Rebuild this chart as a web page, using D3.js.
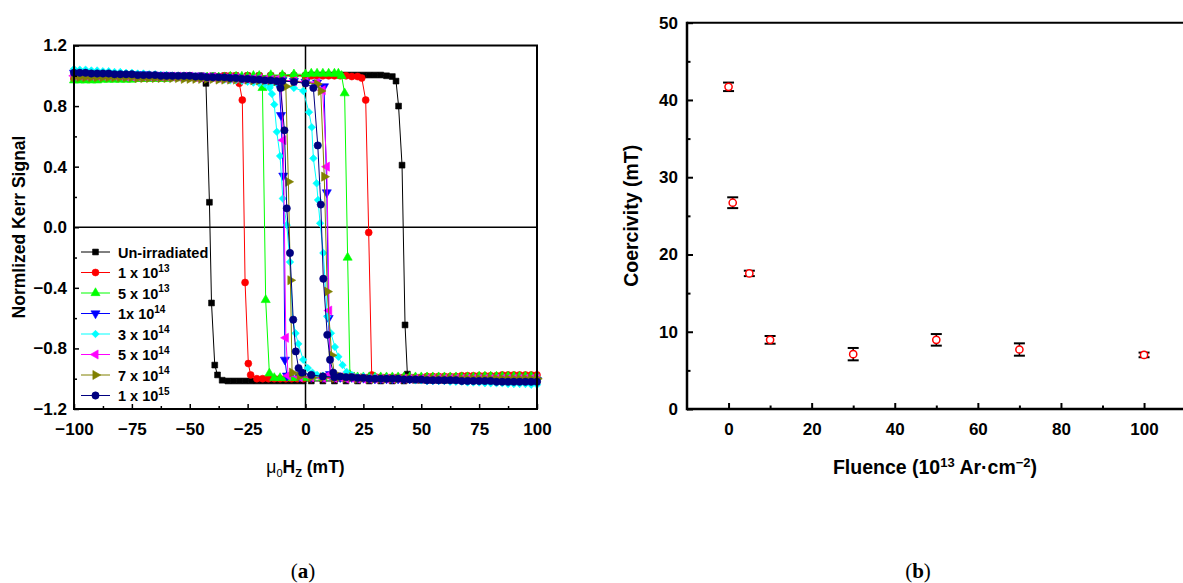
<!DOCTYPE html>
<html lang="en">
<head>
<meta charset="UTF-8">
<title>Kerr hysteresis and coercivity</title>
<script src="https://cdnjs.cloudflare.com/ajax/libs/d3/7.8.5/d3.min.js"></script>
<style>
    * { margin: 0; padding: 0; box-sizing: border-box; }
    body { background: #fff; width: 1183px; height: 583px; overflow: hidden; }
    svg { display: block; font-family: "Liberation Sans", Arial, sans-serif; }
</style>
</head>
<body>
<svg id="fig" width="1183" height="583"></svg>
<script>
// ---- panel (a): Kerr loops, [field mT, normalized signal] ----
// "Up" = sweep from -100 to +100, "Down" = sweep from +100 to -100 (both listed by field)
const bkUp = [[-100,0.99],[-95,0.99],[-90,0.99],[-85,0.99],[-80,0.99],[-75,0.99],[-70,0.99],[-65,0.99],[-60,0.99],[-55,0.995],
    [-50,1.0],[-45,1.0],[-40,1.0],[-35,1.0],[-30,1.0],[-25,1.0],[-20,1.0],[-15,1.0],[-10,1.0],[-5,1.0],[0,1.0],
    [2.5,1.005],[5,1.005],[7.5,1.005],[10,1.005],[12.5,1.005],[15,1.005],[17.5,1.005],[20,1.005],[22.5,1.005],[25,1.005],
    [27.5,1.005],[30,1.005],[32.5,1.005],[35,1.0],[37.5,0.995],[39.1,0.965],[40.2,0.80],[41.7,0.41],[43.0,-0.645],[44.0,-0.97],
    [45.5,-1.0],[50,-1.01],[55,-1.01],[60,-1.01],[65,-1.01],[70,-1.01],[75,-1.01],[80,-1.01],[85,-1.01],[90,-1.01],[95,-1.01],[100,-1.01]];
const bkDown = [[-97.5,0.99],[-92.5,0.99],[-87.5,0.99],[-82.5,0.99],[-77.5,0.99],[-72.5,0.99],[-67.5,0.99],[-62.5,0.99],[-57.5,0.99],
    [-52.5,0.995],[-47.5,0.995],[-45,0.985],[-43,0.95],[-41.5,0.165],[-40.6,-0.50],[-39.2,-0.91],[-38,-0.975],[-36,-1.01],
    [-33.5,-1.015],[-31,-1.015],[-28.5,-1.015],[-26,-1.015],[-23.5,-1.015],[-21,-1.015],[-18.5,-1.015],[-16,-1.015],[-13.5,-1.015],
    [-11,-1.015],[-8.5,-1.015],[-6,-1.015],[-3.5,-1.015],[-1,-1.015],[2.5,-1.015],[7.5,-1.015],[12.5,-1.015],[17.5,-1.015],
    [22.5,-1.015],[27.5,-1.015],[32.5,-1.015],[37.5,-1.015],[42.5,-1.015],[47.5,-1.01],[52.5,-1.01],[57.5,-1.01],[62.5,-1.01],
    [67.5,-1.01],[72.5,-1.01],[77.5,-1.01],[82.5,-1.01],[87.5,-1.01],[92.5,-1.01],[97.5,-1.01]];

const rdUp = [[-100,0.98],[-95,0.98],[-90,0.98],[-85,0.985],[-80,0.985],[-75,0.985],[-70,0.985],[-65,0.99],[-60,0.99],[-55,0.99],
    [-50,0.99],[-45,0.995],[-40,0.995],[-35,1.0],[-30,1.0],[-25,1.0],[-20,1.0],[-15,1.0],[-10,1.0],[-5,1.0],[0,1.0],[2.5,1.0],
    [5,1.0],[7.5,1.0],[10,1.0],[12.5,1.0],[15,1.0],[17.5,1.0],[20,0.995],[22.5,0.995],[24.3,0.985],[26.0,0.84],[27.3,-0.035],
    [28.6,-0.975],[30.5,-0.99],[35,-0.99],[40,-0.99],[45,-0.99],[50,-0.99],[55,-0.985],[60,-0.985],[65,-0.985],[70,-0.98],
    [75,-0.98],[80,-0.98],[85,-0.975],[90,-0.975],[95,-0.975],[100,-0.975]];
const rdDown = [[-97.5,0.98],[-92.5,0.98],[-87.5,0.985],[-82.5,0.985],[-77.5,0.985],[-72.5,0.985],[-67.5,0.99],[-62.5,0.99],
    [-57.5,0.99],[-52.5,0.99],[-47.5,0.99],[-42.5,0.995],[-37.5,0.995],[-32.5,1.0],[-30,0.99],[-28.6,0.95],[-27.3,0.84],
    [-26.1,-0.365],[-24.7,-0.90],[-23.7,-0.975],[-21,-1.0],[-18.5,-1.0],[-16,-1.0],[-13.5,-1.0],[-11,-1.0],[-8.5,-1.0],[-6,-1.0],
    [-3.5,-1.0],[-1,-1.0],[2.5,-1.0],[7.5,-1.0],[12.5,-1.0],[17.5,-0.995],[22.5,-0.995],[27.5,-0.99],[32.5,-0.99],[37.5,-0.99],
    [42.5,-0.99],[47.5,-0.99],[52.5,-0.985],[57.5,-0.985],[62.5,-0.985],[67.5,-0.98],[72.5,-0.98],[77.5,-0.98],[82.5,-0.98],
    [87.5,-0.975],[92.5,-0.975],[97.5,-0.975]];

const gnUp = [[-100,0.97],[-95,0.97],[-90,0.97],[-85,0.975],[-80,0.975],[-75,0.975],[-70,0.98],[-65,0.98],[-60,0.98],[-55,0.985],
    [-50,0.985],[-45,0.985],[-40,0.99],[-35,0.99],[-30,0.995],[-25,0.995],[-20,1.0],[-15,1.005],[-10,1.005],[-5,1.01],[0,1.01],
    [2.5,1.015],[5,1.015],[7.5,1.015],[10,1.015],[12.5,1.015],[14.2,1.015],[15.6,1.0],[16.9,0.885],[18.2,-0.20],[19.2,-0.975],
    [21,-0.99],[25,-0.99],[30,-0.99],[35,-0.99],[40,-0.99],[45,-0.99],[50,-0.99],[55,-0.99],[60,-0.99],[65,-0.99],[70,-0.99],
    [75,-0.985],[80,-0.985],[85,-0.985],[90,-0.985],[95,-0.985],[100,-0.985]];
const gnDown = [[-97.5,0.97],[-92.5,0.97],[-87.5,0.975],[-82.5,0.975],[-77.5,0.975],[-72.5,0.98],[-67.5,0.98],[-62.5,0.98],
    [-57.5,0.985],[-52.5,0.985],[-47.5,0.985],[-42.5,0.99],[-37.5,0.99],[-32.5,0.995],[-27.5,0.995],[-22.5,1.0],[-20,0.99],
    [-18.6,0.92],[-17.2,-0.48],[-15.6,-0.965],[-13.5,-0.995],[-11,-0.995],[-8.5,-0.995],[-6,-0.995],[-3.5,-0.995],[-1,-0.995],
    [2.5,-0.995],[7.5,-0.995],[12.5,-0.99],[17.5,-0.99],[22.5,-0.99],[27.5,-0.99],[32.5,-0.99],[37.5,-0.99],[42.5,-0.99],
    [47.5,-0.99],[52.5,-0.99],[57.5,-0.99],[62.5,-0.99],[67.5,-0.99],[72.5,-0.99],[77.5,-0.985],[82.5,-0.985],[87.5,-0.985],
    [92.5,-0.985],[97.5,-0.985]];

const blUp = [[-100,1.02],[-95,1.02],[-90,1.015],[-85,1.015],[-80,1.01],[-75,1.01],[-70,1.01],[-65,1.005],[-60,1.005],[-55,1.0],
    [-50,1.0],[-45,1.0],[-40,0.995],[-35,0.99],[-30,0.99],[-25,0.985],[-20,0.98],[-15,0.975],[-10,0.97],[-5,0.965],[0,0.96],
    [5,0.955],[8.0,0.93],[9.2,0.23],[10.0,-0.6],[10.6,-0.97],[15,-0.99],[20,-0.99],[25,-0.995],[30,-1.0],[35,-1.0],[40,-1.0],
    [45,-1.0],[50,-1.0],[55,-1.005],[60,-1.005],[65,-1.005],[70,-1.005],[75,-1.01],[80,-1.01],[85,-1.01],[90,-1.01],[95,-1.01],
    [100,-1.01]];
const blDown = [[-97.5,1.02],[-92.5,1.015],[-87.5,1.015],[-82.5,1.01],[-77.5,1.01],[-72.5,1.01],[-67.5,1.005],[-62.5,1.005],
    [-57.5,1.0],[-52.5,1.0],[-47.5,1.0],[-42.5,0.995],[-37.5,0.99],[-32.5,0.99],[-27.5,0.985],[-22.5,0.98],[-17.5,0.975],
    [-12.5,0.97],[-11.3,0.93],[-10.6,0.74],[-9.6,0.34],[-8.9,-0.875],[-8.0,-0.98],[-2.5,-0.985],[2.5,-0.99],[7.5,-0.99],
    [12.5,-0.99],[17.5,-0.99],[22.5,-0.995],[27.5,-0.995],[32.5,-1.0],[37.5,-1.0],[42.5,-1.0],[47.5,-1.0],[52.5,-1.005],
    [57.5,-1.005],[62.5,-1.005],[67.5,-1.005],[72.5,-1.005],[77.5,-1.01],[82.5,-1.01],[87.5,-1.01],[92.5,-1.01],[97.5,-1.01]];

const cyUp = [[-100,1.045],[-95,1.04],[-90,1.035],[-85,1.03],[-80,1.025],[-75,1.02],[-70,1.015],[-65,1.01],[-60,1.005],[-55,1.0],
    [-50,0.995],[-45,0.99],[-40,0.985],[-35,0.975],[-30,0.97],[-25,0.96],[-20,0.95],[-15,0.94],[-10,0.93],[-5,0.92],[-1.0,0.90],
    [1.5,0.76],[2.7,0.66],[3.4,0.455],[4.8,0.29],[5.4,0.18],[6.3,0.026],[7.7,-0.17],[9.4,-0.59],[11.0,-0.70],[12.7,-0.79],
    [14.2,-0.855],[16.0,-0.91],[17.8,-0.955],[20,-0.975],[25,-0.985],[30,-0.99],[35,-0.995],[40,-1.0],[45,-1.005],[50,-1.01],
    [55,-1.015],[60,-1.015],[65,-1.02],[70,-1.025],[75,-1.025],[80,-1.03],[85,-1.03],[90,-1.035],[95,-1.035],[100,-1.04]];
const cyDown = [[-97.5,1.04],[-92.5,1.035],[-87.5,1.03],[-82.5,1.025],[-77.5,1.02],[-72.5,1.015],[-67.5,1.01],[-62.5,1.005],
    [-57.5,1.0],[-52.5,0.995],[-47.5,0.99],[-42.5,0.985],[-37.5,0.98],[-32.5,0.97],[-27.5,0.965],[-22.5,0.955],[-17.5,0.945],
    [-15.5,0.92],[-14.5,0.88],[-13.5,0.81],[-12.4,0.63],[-11.0,0.47],[-9.8,0.19],[-8.1,0.015],[-6.7,-0.23],[-5.5,-0.61],
    [-4.3,-0.70],[-3.1,-0.77],[-1.0,-0.875],[1.0,-0.93],[3.0,-0.96],[5.0,-0.975],[7.5,-0.98],[12.5,-0.985],[17.5,-0.99],
    [22.5,-0.99],[27.5,-0.995],[32.5,-1.0],[37.5,-1.0],[42.5,-1.005],[47.5,-1.01],[52.5,-1.015],[57.5,-1.015],[62.5,-1.02],
    [67.5,-1.02],[72.5,-1.025],[77.5,-1.03],[82.5,-1.03],[87.5,-1.035],[92.5,-1.035],[97.5,-1.04]];

const mgUp = [[-100,1.0],[-95,1.0],[-90,1.0],[-85,1.0],[-80,1.0],[-75,0.995],[-70,0.995],[-65,0.995],[-60,0.995],[-55,0.995],
    [-50,0.995],[-45,0.99],[-40,0.99],[-35,0.985],[-30,0.985],[-25,0.98],[-20,0.98],[-15,0.975],[-10,0.97],[-5,0.965],[0,0.96],
    [5,0.955],[7.4,0.905],[9.2,0.40],[10.2,-0.55],[10.8,-0.97],[15,-0.99],[20,-0.995],[25,-1.0],[30,-1.0],[35,-1.0],[40,-1.0],
    [45,-1.0],[50,-1.0],[55,-1.0],[60,-1.0],[65,-1.0],[70,-1.0],[75,-1.0],[80,-1.0],[85,-1.0],[90,-1.0],[95,-1.0],[100,-1.0]];
const mgDown = [[-97.5,1.0],[-92.5,1.0],[-87.5,1.0],[-82.5,1.0],[-77.5,0.995],[-72.5,0.995],[-67.5,0.995],[-62.5,0.995],
    [-57.5,0.995],[-52.5,0.995],[-47.5,0.99],[-42.5,0.99],[-37.5,0.985],[-32.5,0.985],[-27.5,0.98],[-22.5,0.98],[-17.5,0.975],
    [-12.5,0.975],[-10.5,0.95],[-9.6,0.575],[-8.5,-0.73],[-7.5,-0.98],[-2.5,-0.99],[2.5,-0.99],[7.5,-0.995],[12.5,-0.995],
    [17.5,-1.0],[22.5,-1.0],[27.5,-1.0],[32.5,-1.0],[37.5,-1.0],[42.5,-1.0],[47.5,-1.0],[52.5,-1.0],[57.5,-1.0],[62.5,-1.0],
    [67.5,-1.0],[72.5,-1.0],[77.5,-1.0],[82.5,-1.0],[87.5,-1.0],[92.5,-1.0],[97.5,-1.0]];

const olUp = [[-100,0.99],[-95,0.99],[-90,0.99],[-85,0.99],[-80,0.99],[-75,0.99],[-70,0.985],[-65,0.985],[-60,0.985],[-55,0.985],
    [-50,0.98],[-45,0.98],[-40,0.98],[-35,0.975],[-30,0.975],[-25,0.975],[-20,0.97],[-15,0.97],[-10,0.965],[-5,0.96],[0,0.955],
    [5,0.945],[6.6,0.90],[8.1,0.334],[9.4,-0.425],[11.3,-0.845],[12.5,-0.97],[15,-0.985],[20,-0.99],[25,-0.995],[30,-1.0],
    [35,-1.0],[40,-1.0],[45,-1.0],[50,-1.0],[55,-1.0],[60,-1.0],[65,-1.0],[70,-1.0],[75,-1.0],[80,-1.0],[85,-1.0],[90,-1.0],
    [95,-1.0],[100,-1.0]];
const olDown = [[-97.5,0.99],[-92.5,0.99],[-87.5,0.99],[-82.5,0.99],[-77.5,0.99],[-72.5,0.985],[-67.5,0.985],[-62.5,0.985],
    [-57.5,0.985],[-52.5,0.98],[-47.5,0.98],[-42.5,0.98],[-37.5,0.975],[-32.5,0.975],[-27.5,0.975],[-22.5,0.97],[-17.5,0.97],
    [-12.5,0.965],[-8.5,0.93],[-7.4,0.30],[-6.5,-0.35],[-5.8,-0.96],[-2.5,-0.985],[2.5,-0.99],[7.5,-0.99],[12.5,-0.995],
    [17.5,-0.995],[22.5,-1.0],[27.5,-1.0],[32.5,-1.0],[37.5,-1.0],[42.5,-1.0],[47.5,-1.0],[52.5,-1.0],[57.5,-1.0],[62.5,-1.0],
    [67.5,-1.0],[72.5,-1.0],[77.5,-1.0],[82.5,-1.0],[87.5,-1.0],[92.5,-1.0],[97.5,-1.0]];

const nvUp = [[-100,1.02],[-95,1.02],[-90,1.015],[-85,1.015],[-80,1.01],[-75,1.01],[-70,1.005],[-65,1.005],[-60,1.0],[-55,1.0],
    [-50,1.0],[-45,0.995],[-40,0.99],[-35,0.99],[-30,0.985],[-25,0.98],[-20,0.975],[-15,0.97],[-10,0.965],[-5,0.96],[0,0.95],
    [3.4,0.92],[5.3,0.54],[6.6,0.15],[7.7,-0.34],[9.4,-0.71],[10.6,-0.875],[12.0,-0.96],[15,-0.985],[20,-0.99],[25,-0.995],
    [30,-1.0],[35,-1.0],[40,-1.0],[45,-1.005],[50,-1.005],[55,-1.01],[60,-1.01],[65,-1.01],[70,-1.015],[75,-1.015],[80,-1.015],
    [85,-1.02],[90,-1.02],[95,-1.02],[100,-1.02]];
const nvDown = [[-97.5,1.02],[-92.5,1.015],[-87.5,1.015],[-82.5,1.01],[-77.5,1.01],[-72.5,1.005],[-67.5,1.005],[-62.5,1.0],
    [-57.5,1.0],[-52.5,1.0],[-47.5,0.995],[-42.5,0.99],[-37.5,0.99],[-32.5,0.985],[-27.5,0.98],[-22.5,0.975],[-17.5,0.97],
    [-12.5,0.965],[-10.8,0.92],[-9.1,0.64],[-8.1,0.125],[-6.7,-0.17],[-5.3,-0.61],[-4.2,-0.82],[-3.0,-0.93],[-1.5,-0.96],
    [2.5,-0.975],[7.5,-0.985],[12.5,-0.99],[17.5,-0.99],[22.5,-0.995],[27.5,-1.0],[32.5,-1.0],[37.5,-1.0],[42.5,-1.005],
    [47.5,-1.005],[52.5,-1.01],[57.5,-1.01],[62.5,-1.01],[67.5,-1.015],[72.5,-1.015],[77.5,-1.015],[82.5,-1.02],[87.5,-1.02],
    [92.5,-1.02],[97.5,-1.02]];

const legendBase = ["Un-irradiated", "1 x 10", "5 x 10", "1x 10", "3 x 10", "5 x 10", "7 x 10", "1 x 10"];
const legendExp = ["", "13", "13", "14", "14", "14", "14", "15"];

const fieldTicks = [-100, -75, -50, -25, 0, 25, 50, 75, 100];
const kerrTicks = [-1.2, -0.8, -0.4, 0.0, 0.4, 0.8, 1.2];

// ---- panel (b): coercivity vs fluence ----
const fluence = [0, 1, 5, 10, 30, 50, 70, 100];
const coercivity = [41.7, 26.7, 17.55, 8.95, 7.1, 8.95, 7.7, 7.0];
const coercErr = [0.55, 0.7, 0.35, 0.5, 0.8, 0.75, 0.8, 0.3];
const fluenceTicks = [0, 20, 40, 60, 80, 100];
const coercTicks = [0, 10, 20, 30, 40, 50];

const FONT = '"Liberation Sans", Arial, sans-serif';
const svg = d3.select("#fig");
svg.append("rect").attr("width", 1183).attr("height", 583).attr("fill", "#fff");

// ================= panel (a) =================
const xL = d3.scaleLinear().domain([-100, 100]).range([74, 537]);
const yL = d3.scaleLinear().domain([-1.2, 1.2]).range([409, 45.5]);
const pa = svg.append("g");

const loops = [
    { up: bkUp, down: bkDown, color: "#000000", sym: d3.symbolSquare, rot: 0, size: 34 },
    { up: rdUp, down: rdDown, color: "#ff0000", sym: d3.symbolCircle, rot: 0, size: 38 },
    { up: gnUp, down: gnDown, color: "#00ff00", sym: d3.symbolTriangle, rot: 0, size: 36 },
    { up: blUp, down: blDown, color: "#0000ff", sym: d3.symbolTriangle, rot: 180, size: 36 },
    { up: cyUp, down: cyDown, color: "#00ffff", sym: d3.symbolSquare, rot: 45, size: 28 },
    { up: mgUp, down: mgDown, color: "#ff00ff", sym: d3.symbolTriangle, rot: -90, size: 36 },
    { up: olUp, down: olDown, color: "#808000", sym: d3.symbolTriangle, rot: 90, size: 36 },
    { up: nvUp, down: nvDown, color: "#000080", sym: d3.symbolCircle, rot: 0, size: 42 }
];

// zero lines
pa.append("line").attr("x1", xL(-100)).attr("x2", xL(100)).attr("y1", yL(0)).attr("y2", yL(0))
    .attr("stroke", "#000").attr("stroke-width", 1.5);
pa.append("line").attr("x1", xL(0)).attr("x2", xL(0)).attr("y1", yL(1.2)).attr("y2", yL(-1.2))
    .attr("stroke", "#000").attr("stroke-width", 1.5);

const lineGen = d3.line().x(d => xL(d[0])).y(d => yL(d[1]));

loops.forEach(s => {
    const g = pa.append("g");
    [s.up, s.down].forEach(branch => {
        g.append("path").datum(branch).attr("d", lineGen)
            .attr("fill", "none").attr("stroke", s.color).attr("stroke-width", 1);
    });
    const shape = d3.symbol().type(s.sym).size(s.size)();
    [s.up, s.down].forEach(branch => {
        g.selectAll(null).data(branch).enter().append("path")
            .attr("d", shape)
            .attr("transform", d => `translate(${xL(d[0])},${yL(d[1])}) rotate(${s.rot})`)
            .attr("fill", s.color).attr("stroke", s.color).attr("stroke-width", 0.6);
    });
});

// axes (inward ticks)
const axBottomL = pa.append("g").attr("transform", `translate(0,${yL(-1.2)})`)
    .call(d3.axisBottom(xL).tickValues(fieldTicks).tickSizeInner(-5).tickSizeOuter(0).tickPadding(14));
const axBottomLMinor = pa.append("g").attr("transform", `translate(0,${yL(-1.2)})`)
    .call(d3.axisBottom(xL).tickValues([-87.5, -62.5, -37.5, -12.5, 12.5, 37.5, 62.5, 87.5])
        .tickSizeInner(-3).tickSizeOuter(0).tickFormat(""));
const axLeftL = pa.append("g").attr("transform", `translate(${xL(-100)},0)`)
    .call(d3.axisLeft(yL).tickValues(kerrTicks).tickSizeInner(-5).tickSizeOuter(0).tickPadding(7)
        .tickFormat(d3.format(".1f")));
const axLeftLMinor = pa.append("g").attr("transform", `translate(${xL(-100)},0)`)
    .call(d3.axisLeft(yL).tickValues([-1.0, -0.6, -0.2, 0.2, 0.6, 1.0]).tickSizeInner(-3).tickSizeOuter(0).tickFormat(""));

function styleAxis(g) {
    g.attr("font-family", FONT).attr("font-size", 17).attr("font-weight", "bold");
    g.select(".domain").remove();
    g.selectAll(".tick line").attr("stroke", "#000").attr("stroke-width", 1.5);
    g.selectAll(".tick text").attr("fill", "#000");
}
[axBottomL, axBottomLMinor, axLeftL, axLeftLMinor].forEach(styleAxis);

// frame
pa.append("rect").attr("x", xL(-100)).attr("y", yL(1.2))
    .attr("width", xL(100) - xL(-100)).attr("height", yL(-1.2) - yL(1.2))
    .attr("fill", "none").attr("stroke", "#000").attr("stroke-width", 2);

// legend
const legend = pa.append("g").attr("font-family", FONT).attr("font-weight", "bold").attr("font-size", 14.5);
legendBase.forEach((label, i) => {
    const s = loops[i];
    const cy = 252 + i * 20.5;
    legend.append("line").attr("x1", 81).attr("x2", 110).attr("y1", cy).attr("y2", cy)
        .attr("stroke", s.color).attr("stroke-width", 1);
    legend.append("path").attr("d", d3.symbol().type(s.sym).size(s.size)())
        .attr("transform", `translate(95.5,${cy}) rotate(${s.rot})`)
        .attr("fill", s.color).attr("stroke", s.color).attr("stroke-width", 0.6);
    const t = legend.append("text").attr("x", 118).attr("y", cy + 5.5).attr("fill", "#000").text(label);
    if (legendExp[i]) {
        t.append("tspan").attr("dy", -6.5).attr("font-size", 10).text(legendExp[i]);
    }
});

// axis titles
pa.append("text").attr("transform", "translate(25,227) rotate(-90)")
    .attr("text-anchor", "middle").attr("font-family", FONT).attr("font-weight", "bold").attr("font-size", 17.5)
    .text("Normlized Kerr Signal");

const xt = pa.append("text").attr("x", xL(0)).attr("y", 473).attr("text-anchor", "middle")
    .attr("font-family", FONT).attr("font-weight", "bold").attr("font-size", 17.5);
xt.append("tspan").attr("font-weight", "normal").text("\u03BC");
xt.append("tspan").attr("font-size", 11).attr("dy", 4).attr("font-weight", "normal").text("0");
xt.append("tspan").attr("dy", -4).text("H");
xt.append("tspan").attr("font-size", 11).attr("dy", 4).text("Z");
xt.append("tspan").attr("dy", -4).text(" (mT)");

// ================= panel (b) =================
const xR = d3.scaleLinear().domain([-10, 110]).range([687, 1185.6]);
const yR = d3.scaleLinear().domain([0, 50]).range([409, 22.7]);
const pb = svg.append("g");

const axBottomR = pb.append("g").attr("transform", `translate(0,${yR(0)})`)
    .call(d3.axisBottom(xR).tickValues(fluenceTicks).tickSizeInner(-6).tickSizeOuter(0).tickPadding(14));
const axBottomRMinor = pb.append("g").attr("transform", `translate(0,${yR(0)})`)
    .call(d3.axisBottom(xR).tickValues([10, 30, 50, 70, 90]).tickSizeInner(-3.5).tickSizeOuter(0).tickFormat(""));
const axLeftR = pb.append("g").attr("transform", `translate(${xR(-10)},0)`)
    .call(d3.axisLeft(yR).tickValues(coercTicks).tickSizeInner(-6).tickSizeOuter(0).tickPadding(9));
const axLeftRMinor = pb.append("g").attr("transform", `translate(${xR(-10)},0)`)
    .call(d3.axisLeft(yR).tickValues([5, 15, 25, 35, 45]).tickSizeInner(-3.5).tickSizeOuter(0).tickFormat(""));
[axBottomR, axBottomRMinor, axLeftR, axLeftRMinor].forEach(g => {
    styleAxis(g);
    g.selectAll(".tick line").attr("stroke-width", 2);
});

// axis lines and top border
pb.append("line").attr("x1", xR(-10)).attr("x2", xR(110)).attr("y1", yR(0)).attr("y2", yR(0))
    .attr("stroke", "#000").attr("stroke-width", 2.5);
pb.append("line").attr("x1", xR(-10)).attr("x2", xR(-10)).attr("y1", yR(0) + 1.2).attr("y2", yR(50) - 1)
    .attr("stroke", "#000").attr("stroke-width", 2.5);
pb.append("line").attr("x1", xR(-10)).attr("x2", xR(110)).attr("y1", yR(50)).attr("y2", yR(50))
    .attr("stroke", "#000").attr("stroke-width", 2);
pb.append("line").attr("x1", xR(110)).attr("x2", xR(110)).attr("y1", yR(0)).attr("y2", yR(50))
    .attr("stroke", "#000").attr("stroke-width", 2);

// error bars + points
const pts = fluence.map((f, i) => ({ f, c: coercivity[i], e: coercErr[i] }));
const eb = pb.append("g").attr("stroke", "#000");
eb.selectAll("line.v").data(pts).enter().append("line")
    .attr("x1", d => xR(d.f)).attr("x2", d => xR(d.f))
    .attr("y1", d => yR(d.c - d.e)).attr("y2", d => yR(d.c + d.e)).attr("stroke-width", 1.5);
[-1, 1].forEach(sign => {
    eb.selectAll(null).data(pts).enter().append("line")
        .attr("x1", d => xR(d.f) - 5.5).attr("x2", d => xR(d.f) + 5.5)
        .attr("y1", d => yR(d.c + sign * d.e)).attr("y2", d => yR(d.c + sign * d.e))
        .attr("stroke-width", 2);
});
pb.selectAll("circle.pt").data(pts).enter().append("circle")
    .attr("cx", d => xR(d.f)).attr("cy", d => yR(d.c)).attr("r", 3.6)
    .attr("fill", "#fff").attr("stroke", "#ff0000").attr("stroke-width", 1.5);

pb.append("text").attr("transform", `translate(638,${(yR(0) + yR(50)) / 2}) rotate(-90)`)
    .attr("text-anchor", "middle").attr("font-family", FONT).attr("font-weight", "bold").attr("font-size", 19.5)
    .text("Coercivity (mT)");

const ft = pb.append("text").attr("x", 935).attr("y", 474).attr("text-anchor", "middle")
    .attr("font-family", FONT).attr("font-weight", "bold").attr("font-size", 19.5);
ft.append("tspan").text("Fluence (10");
ft.append("tspan").attr("font-size", 13).attr("dy", -7).text("13");
ft.append("tspan").attr("dy", 7).text(" Ar\u00B7cm");
ft.append("tspan").attr("font-size", 13).attr("dy", -7).text("\u22122");
ft.append("tspan").attr("dy", 7).text(")");

// ================= captions =================
[["a", 303], ["b", 918]].forEach(([letter, x]) => {
    const c = svg.append("text").attr("x", x).attr("y", 578).attr("text-anchor", "middle")
        .attr("font-family", '"Liberation Serif", "DejaVu Serif", serif').attr("font-size", 21).attr("fill", "#000");
    c.append("tspan").text("(");
    c.append("tspan").attr("font-weight", "bold").text(letter);
    c.append("tspan").text(")");
});
</script>
</body>
</html>
